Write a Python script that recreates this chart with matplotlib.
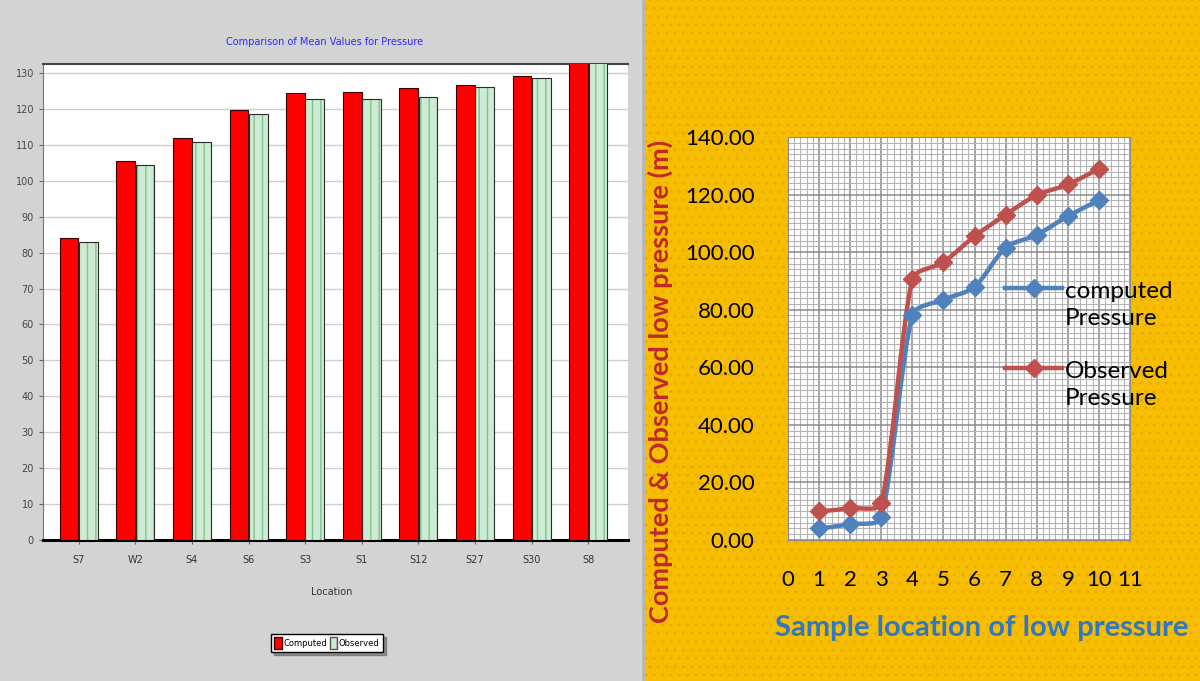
import numpy as np
import matplotlib.pyplot as plt
from matplotlib.path import Path
from matplotlib.patches import PathPatch, Rectangle, Patch
from matplotlib.lines import Line2D
from matplotlib.ticker import MultipleLocator, FormatStrFormatter

# Left chart: mean values per location
locations = ['S7', 'W2', 'S4', 'S6', 'S3', 'S1', 'S12', 'S27', 'S30', 'S8']
computed_mean = [84.1, 105.6, 112.0, 119.8, 124.5, 124.8, 125.9, 126.7, 129.2, 134.0]
observed_mean = [83.0, 104.5, 110.9, 118.7, 122.8, 122.8, 123.4, 126.2, 128.7, 133.5]

# Right chart: low pressure per sample location
sample_loc = [1, 2, 3, 4, 5, 6, 7, 8, 9, 10]
computed_p = [4.0, 5.5, 8.0, 78.0, 83.5, 88.0, 101.5, 106.0, 112.5, 118.0]
observed_p = [10.0, 11.0, 13.0, 90.5, 96.5, 105.5, 113.0, 119.8, 123.5, 129.0]

W, H = 1200, 681
fig = plt.figure(figsize=(W / 100, H / 100), dpi=100)
fig.patch.set_facecolor('#d3d3d3')


# Excel-like smoothed line: Catmull-Rom in pixel space, control arms capped
def smooth_path(ax, xs, ys):
    pts = ax.transData.transform(np.column_stack([xs, ys]))
    n = len(pts)
    verts = [pts[0]]
    codes = [Path.MOVETO]
    for i in range(n - 1):
        p0, p1, p2, p3 = pts[max(i - 1, 0)], pts[i], pts[i + 1], pts[min(i + 2, n - 1)]
        seg = np.linalg.norm(p2 - p1)
        t1 = (p2 - p0) / 6
        t2 = (p3 - p1) / 6
        for t in (t1, t2):
            ln = np.linalg.norm(t)
            if ln > seg / 3:
                t *= (seg / 3) / ln
        verts += [p1 + t1, p2 - t2, p2]
        codes += [Path.CURVE4] * 3
    verts = ax.transData.inverted().transform(np.array(verts))
    return Path(verts, codes)


# ---------------- right panel background ----------------
fig.add_artist(Rectangle((642 / W, 0), 3 / W, 1, transform=fig.transFigure,
                         facecolor='#b8b8b8', lw=0, zorder=-10))
fig.add_artist(Rectangle((645 / W, 0), 1 - 645 / W, 1, transform=fig.transFigure,
                         facecolor='#f7bd00', edgecolor='#e9ad00', hatch='..', lw=0, zorder=-10))

# ---------------- left chart ----------------
narrow = ['Liberation Sans Narrow', 'DejaVu Sans']
axl = fig.add_axes([43 / W, 1 - 540 / H, (628 - 43) / W, (540 - 64) / H])
axl.set_facecolor('white')
x = np.arange(len(locations))
bw = 0.33
axl.bar(x - 0.17, computed_mean, bw, color='#ff0000', edgecolor='#3a0000', linewidth=0.8, zorder=3)
axl.bar(x + 0.17, observed_mean, bw, color='#cdebd3', edgecolor='#7fc490', hatch='||', linewidth=0, zorder=3)
axl.bar(x + 0.17, observed_mean, bw, fill=False, edgecolor='#2a2a2a', linewidth=0.8, zorder=4)
axl.set_xlim(-0.63, 9.7)
axl.set_ylim(0, 132.5)
axl.yaxis.set_major_locator(MultipleLocator(10))
axl.set_xticks(x)
axl.set_xticklabels(locations, family=narrow, fontsize=7, color='#333333')
for lab in axl.get_yticklabels():
    lab.set_family(narrow)
axl.tick_params(axis='y', labelsize=7, labelcolor='#444444', length=3, color='#666666')
axl.tick_params(axis='x', length=3, pad=8, color='#666666')
axl.grid(axis='y', color='#cfcfcf', linewidth=1, zorder=0)
axl.set_axisbelow(True)
axl.spines['bottom'].set_linewidth(2.2)
axl.spines['bottom'].set_color('black')
axl.spines['top'].set_color('#444444')
axl.spines['top'].set_linewidth(1.5)
axl.spines['left'].set_color('#777777')
axl.spines['right'].set_visible(False)
fig.text(325 / W, 1 - 42 / H, 'Comparison of Mean Values for Pressure', color='#2b2bff',
         fontsize=7, ha='center', va='center', family=narrow)
fig.text(332 / W, 1 - 592 / H, 'Location', color='#333333', fontsize=7,
         ha='center', va='center', family=narrow)
leg_handles = [Patch(facecolor='#ff0000', edgecolor='#3a0000'),
               Patch(facecolor='#cdebd3', edgecolor='#555555', hatch='||')]
lg = axl.legend(leg_handles, ['Computed', 'Observed'], ncol=2, loc='center',
                bbox_to_anchor=(327 / W, 1 - 643 / H), bbox_transform=fig.transFigure,
                prop={'family': narrow, 'size': 6}, frameon=True, fancybox=False,
                shadow=True, edgecolor='black', handlelength=0.9, handleheight=1.8,
                handletextpad=0.2, columnspacing=0.3, borderpad=0.4)
lg.get_frame().set_linewidth(1)

# ---------------- right chart ----------------
font = ['Lato', 'DejaVu Sans']
axr = fig.add_axes([788 / W, 1 - 540 / H, (1130 - 788) / W, (540 - 137) / H])
axr.set_facecolor('white')
axr.set_xlim(0, 11)
axr.set_ylim(0, 140)
axr.xaxis.set_major_locator(MultipleLocator(1))
axr.xaxis.set_minor_locator(MultipleLocator(0.2))
axr.yaxis.set_major_locator(MultipleLocator(20))
axr.yaxis.set_minor_locator(MultipleLocator(2))
axr.yaxis.set_major_formatter(FormatStrFormatter('%.2f'))
axr.grid(which='minor', color='#b4b4b4', linewidth=0.8)
axr.grid(which='major', color='#8a8a8a', linewidth=1.1)
axr.set_axisbelow(True)
axr.tick_params(which='both', length=0)
axr.tick_params(axis='y', pad=24)
axr.tick_params(axis='x', pad=21.5)
for lab in axr.get_xticklabels() + axr.get_yticklabels():
    lab.set_family(font)
    lab.set_fontsize(16)
    lab.set_color('black')
for s in axr.spines.values():
    s.set_color('#8a8a8a')

for ys, col in [(computed_p, '#4f81bd'), (observed_p, '#c0504d')]:
    axr.add_patch(PathPatch(smooth_path(axr, sample_loc, ys), fill=False,
                            edgecolor=col, linewidth=3.2, zorder=3, capstyle='round'))
    axr.plot(sample_loc, ys, linestyle='none', marker='D', markersize=9,
             color=col, zorder=4, clip_on=False)

fig.text(660 / W, 1 - 381 / H, 'Computed & Observed low pressure (m)', rotation=90,
         color='#c0282a', fontsize=19.5, fontweight='bold', family=font,
         ha='center', va='center')
fig.text(982 / W, 1 - 628 / H, 'Sample location of low pressure', color='#2e78c4',
         fontsize=21, fontweight='bold', family=font, ha='center', va='center')

# legend for right chart
for yc, col, label in [(288, '#4f81bd', 'computed\nPressure'),
                       (368, '#c0504d', 'Observed\nPressure')]:
    fig.add_artist(Line2D([1005 / W, 1062 / W], [1 - yc / H, 1 - yc / H],
                          transform=fig.transFigure, color=col, linewidth=3.2))
    fig.add_artist(Line2D([1034 / W], [1 - yc / H], transform=fig.transFigure,
                          color=col, marker='D', markersize=9, linestyle='none'))
    fig.text(1065 / W, 1 - (yc + 17) / H, label, fontsize=17.5, family=font,
             ha='left', va='center', linespacing=1.35)

fig.savefig('out.png', dpi=100, facecolor=fig.get_facecolor())
